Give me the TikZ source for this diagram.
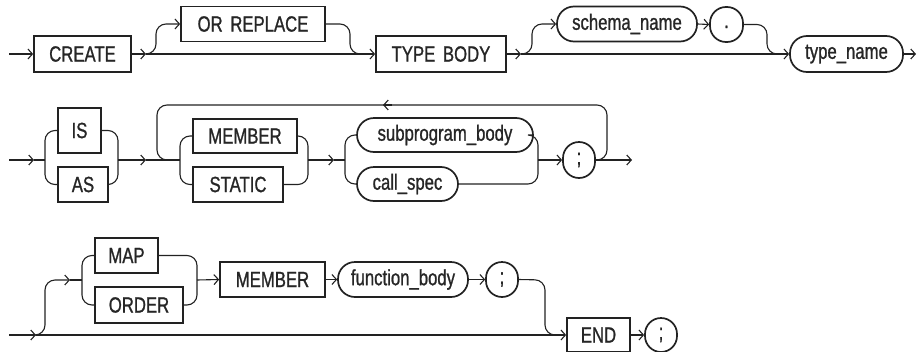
\documentclass[tikz,border=0pt]{standalone}
\usepackage{fontspec}
\newfontfamily\dfont[FakeStretch=0.76,FakeBold=1]{Liberation Sans}
\usetikzlibrary{arrows.meta}
\definecolor{ink}{HTML}{222222}
\definecolor{txt}{HTML}{262626}
\tikzset{
  kw/.style={draw=ink, line width=1.7pt, rectangle, inner sep=0pt, text=txt,
    font=\dfont\fontsize{22}{26}\selectfont},
  nt/.style={kw, rounded corners=17pt},
  conn/.style={draw=ink, line width=1.1pt},
  arr/.style={-{Straight Barb[length=4.5pt,width=10pt]}},
  rc/.style={rounded corners=10pt}
}
\begin{document}
\begin{tikzpicture}[x=1pt,y=-1pt]
\useasboundingbox (0,0) rectangle (917,351);
% ---------- row 1 ----------
\node[kw, minimum width=97pt, minimum height=36pt] (create) at (82.5,54) {CREATE};
\node[kw, minimum width=144pt, minimum height=35pt] (orrep) at (253,24) {OR\hspace{3pt} REPLACE};
\node[kw, minimum width=130pt, minimum height=36pt] (tbody) at (441,54) {TYPE\hspace{3pt} BODY};
\node[nt, minimum width=140pt, minimum height=35pt] (schema) at (627,24) {schema\_name};
\node[nt, minimum width=33pt, minimum height=35pt, rounded corners=16pt, text height=7pt, text depth=0pt] (dot) at (726.5,24.5) {.};
\node[nt, minimum width=113pt, minimum height=36pt] (tname) at (846.5,54) {type\_name};
\coordinate (s1) at (9,54);
\coordinate (b1) at (146,54);
\coordinate (b2) at (521,54);
\coordinate (e1) at (916,54);
\draw[conn,arr] (s1) -- (create.west);
\draw[conn,arr] (create.east) -- (b1);
\draw[conn,arr] (b1) -- (tbody.west);
\draw[conn,arr,rc] (b1) -- (156,54) -- (156,24) -- (orrep.west);
\draw[conn,rc] (orrep.east) -- (350,24) -- (350,54) -- (364,54);
\draw[conn,arr] (tbody.east) -- (b2);
\draw[conn,arr] (b2) -- (tname.west);
\draw[conn,arr,rc] (b2) -- (532,54) -- (532,24) -- (schema.west);
\draw[conn,arr] (schema.east) -- (dot.west);
\draw[conn,rc] (dot.east) -- (767,24.5) -- (767,54) -- (780,54);
\draw[conn,arr] (tname.east) -- (e1);
% ---------- row 2 ----------
\node[kw, minimum width=43pt, minimum height=45pt] (is) at (79.5,130.5) {IS};
\node[kw, minimum width=50pt, minimum height=35pt] (as) at (83,184.5) {AS};
\node[kw, minimum width=104pt, minimum height=34pt] (mem) at (245,136) {MEMBER};
\node[kw, minimum width=90pt, minimum height=35pt] (stat) at (238,184.5) {STATIC};
\node[nt, minimum width=176pt, minimum height=34pt] (subp) at (445,135) {subprogram\_body};
\node[nt, minimum width=101pt, minimum height=34pt] (cspec) at (407.5,184) {call\_spec};
\node[nt, minimum width=32pt, minimum height=36pt, rounded corners=16pt] (semi1) at (579,160) {;};
\coordinate (s2) at (9,160);
\coordinate (a2) at (34,160);
\coordinate (c2) at (146,160);
\coordinate (d2) at (334,160);
\coordinate (e2) at (632,160);
\coordinate (la) at (392,105);
\coordinate (lb) at (383,105);
\draw[conn,arr] (s2) -- (a2);
\draw[conn] (a2) -- (45,160);
\draw[conn,rc] (is.west) -- (45,130.5) -- (45,184.5) -- (as.west);
\draw[conn,rc] (is.east) -- (118,130.5) -- (118,184.5) -- (as.east);
\draw[conn,arr] (118,160) -- (c2);
\draw[conn] (c2) -- (180,160);
\draw[conn,rc] (170,160) -- (157,160) -- (157,105) -- (607,105) -- (607,160) -- (595,160);
\draw[conn,arr] (la) -- (lb);
\draw[conn,rc] (mem.west) -- (180,136) -- (180,184.5) -- (stat.west);
\draw[conn,rc] (mem.east) -- (308,136) -- (308,184.5) -- (stat.east);
\draw[conn,arr] (308,160) -- (d2);
\draw[conn] (d2) -- (345,160);
\draw[conn,rc] (subp.west) -- (345,135) -- (345,184) -- (cspec.west);
\draw[conn,rc] (subp.east) -- (538,135) -- (538,184) -- (cspec.east);
\draw[conn,arr] (538,160) -- (semi1.west);
\draw[conn,arr] (semi1.east) -- (e2);
% ---------- row 3 ----------
\node[kw, minimum width=63pt, minimum height=35pt] (map) at (126.5,255.5) {MAP};
\node[kw, minimum width=88pt, minimum height=36pt] (order) at (139,305) {ORDER};
\node[kw, minimum width=105pt, minimum height=35pt] (mem2) at (272.5,279.5) {MEMBER};
\node[nt, minimum width=130pt, minimum height=35pt] (fbody) at (403,279.5) {function\_body};
\node[nt, minimum width=32pt, minimum height=35pt, rounded corners=16pt] (semi2) at (502,279.5) {;};
\node[kw, minimum width=63pt, minimum height=34pt] (endk) at (598.5,335) {END};
\node[nt, minimum width=32pt, minimum height=34pt, rounded corners=16pt] (semi3) at (661,335) {;};
\coordinate (s3) at (9,335);
\coordinate (a3) at (36,335);
\coordinate (u3) at (70,280);
\draw[conn,arr] (s3) -- (a3);
\draw[conn,arr] (a3) -- (endk.west);
\draw[conn,arr,rc] (a3) -- (45,335) -- (45,280) -- (u3);
\draw[conn] (u3) -- (82,280);
\draw[conn,rc] (map.west) -- (82,255.5) -- (82,305) -- (order.west);
\draw[conn,rc] (map.east) -- (197,255.5) -- (197,305) -- (order.east);
\draw[conn,arr] (197,280) -- (mem2.west);
\draw[conn,arr] (mem2.east) -- (fbody.west);
\draw[conn,arr] (fbody.east) -- (semi2.west);
\draw[conn,rc] (semi2.east) -- (545,280) -- (545,335) -- (557,335);
\draw[conn,arr] (endk.east) -- (semi3.west);
\end{tikzpicture}
\end{document}
